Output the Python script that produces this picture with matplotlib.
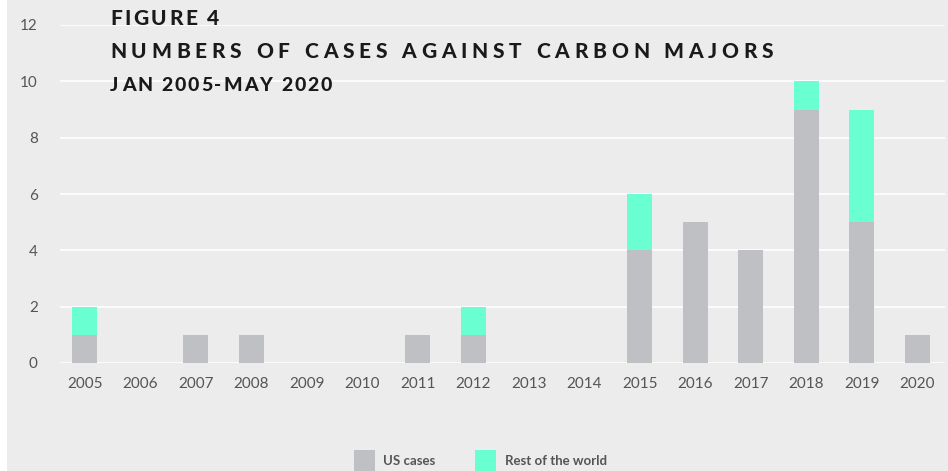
import matplotlib
matplotlib.use("Agg")
import matplotlib.pyplot as plt
from matplotlib.patches import Rectangle
from matplotlib.textpath import TextPath
from matplotlib.font_manager import FontProperties

years = ["2005", "2006", "2007", "2008", "2009", "2010", "2011", "2012",
         "2013", "2014", "2015", "2016", "2017", "2018", "2019", "2020"]
us_cases = [1, 0, 1, 1, 0, 0, 1, 1, 0, 0, 4, 5, 4, 9, 5, 1]
rest_world = [1, 0, 0, 0, 0, 0, 0, 1, 0, 0, 2, 0, 0, 1, 4, 0]
yticks = [0, 2, 4, 6, 8, 10, 12]

bg = "#ececec"
gray = "#bfc0c3"
teal = "#6affd0"
txt = "#555555"

W, H = 948, 471
fig = plt.figure(figsize=(W / 100, H / 100), dpi=100, facecolor=bg)
# white strip on the left edge
fig.patches.append(Rectangle((0, 0), 7 / W, 1, transform=fig.transFigure,
                             facecolor="white", edgecolor="none", zorder=0))

ax = fig.add_axes([60 / W, 1 - 363 / H, (945 - 60) / W, (363 - 25) / H])
ax.set_facecolor(bg)
x = list(range(len(years)))
ax.bar(x, us_cases, width=0.45, color=gray, zorder=3)
ax.bar(x, rest_world, width=0.45, bottom=us_cases, color=teal, zorder=3)

ax.set_ylim(0, 12)
ax.set_xlim(-0.45, 15.5)
ax.set_yticks(yticks)
ax.set_xticks(x)
ax.set_xticklabels(years)
ax.grid(axis="y", color="white", linewidth=1.2, zorder=1)
for s in ax.spines.values():
    s.set_visible(False)
ax.tick_params(length=0, labelcolor=txt, labelsize=11)
ax.tick_params(axis="y", pad=16)
ax.tick_params(axis="x", pad=10)
for lab in ax.get_xticklabels() + ax.get_yticklabels():
    lab.set_family("Lato")


def spaced(text, px, py, size, track):
    # draw text letter by letter with extra tracking (pixel coords from top)
    fp = FontProperties(family="Lato", weight="black", size=size)
    hw = TextPath((0, 0), "H", prop=fp).get_extents().width
    for i, ch in enumerate(text):
        if ch == " ":
            continue
        adv = 0
        if i > 0:
            adv = TextPath((0, 0), text[:i] + "H", prop=fp).get_extents().width - hw
        fig.text((px + adv * 100 / 72 + i * track) / W, 1 - py / H, ch,
                 fontproperties=fp, color="#1a1a1a", va="baseline", ha="left")


spaced("FIGURE 4", 110, 25, 15, 2.6)
spaced("NUMBERS OF CASES AGAINST CARBON MAJORS", 110, 58, 15, 4.85)
spaced("JAN 2005-MAY 2020", 110, 91, 14, 2.0)

# legend at the bottom
fig.patches.append(Rectangle((354 / W, 0), 21 / W, 21 / H, transform=fig.transFigure,
                             facecolor=gray, edgecolor="none"))
fig.text(383 / W, 1 - 461 / H, "US cases", fontsize=9.5, fontweight="bold",
         family="Lato", color=txt, va="center")
fig.patches.append(Rectangle((475 / W, 0), 21 / W, 21 / H, transform=fig.transFigure,
                             facecolor=teal, edgecolor="none"))
fig.text(505 / W, 1 - 461 / H, "Rest of the world", fontsize=9.5, fontweight="bold",
         family="Lato", color=txt, va="center")

fig.savefig("out.png", dpi=100, facecolor=bg)
